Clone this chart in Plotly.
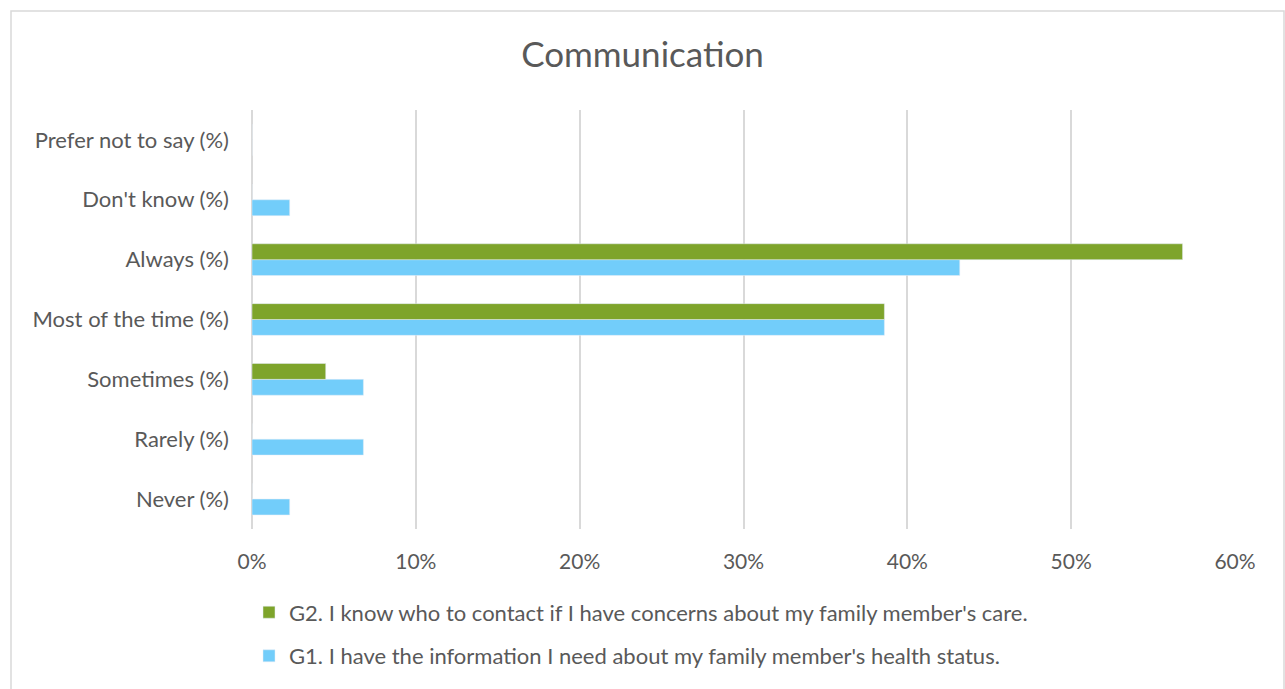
import plotly.graph_objects as go

categories = ["Never (%)", "Rarely (%)", "Sometimes (%)", "Most of the time (%)",
              "Always (%)", "Don't know (%)", "Prefer not to say (%)"]
g1_name = "G1. I have the information I need about my family member's health status."
g2_name = "G2. I know who to contact if I have concerns about my family member's care."
g1_values = [0.023, 0.068, 0.068, 0.386, 0.432, 0.023, 0.0]
g2_values = [0.0, 0.0, 0.045, 0.386, 0.568, 0.0, 0.0]
x_ticks = [0, 0.1, 0.2, 0.3, 0.4, 0.5, 0.6]

FONT = "Lato, Calibri, Carlito, sans-serif"
TEXT = "#595959"
GRID = "#d9d9d9"

W, H = 1285, 689
L, R, T, B = 252, 50, 110, 156
pw, ph = W - L - R, H - T - B

def px_x(p):
    return (p - L) / pw

def px_y(p):
    return (H - B - p) / ph

fig = go.Figure()
fig.add_trace(go.Bar(y=categories, x=g1_values, orientation="h", name=g1_name,
                     marker_color="#72cdfa", legendgroup="g1", legendrank=2))
fig.add_trace(go.Bar(y=categories, x=g2_values, orientation="h", name=g2_name,
                     marker_color="#7ea42b", legendgroup="g2", legendrank=1))

fig.update_layout(
    width=W, height=H,
    margin=dict(l=L, r=R, t=T, b=B),
    paper_bgcolor="white", plot_bgcolor="white",
    barmode="group", bargap=0.47, bargroupgap=0,
    font=dict(family=FONT, color=TEXT, size=21),
    title=dict(text="Communication", x=0.5, xref="container", xanchor="center",
               y=1 - 55 / H, yanchor="middle",
               font=dict(size=35, color=TEXT, family=FONT)),
    showlegend=True,
    legend=dict(x=px_x(249), xanchor="left", y=px_y(596), yanchor="top",
                traceorder="grouped", tracegroupgap=12,
                font=dict(size=22, color=TEXT), bgcolor="rgba(0,0,0,0)"),
    xaxis=dict(range=[0, 0.6], tickvals=x_ticks, tickformat=".0%",
               showgrid=True, gridcolor=GRID, gridwidth=1.5,
               zeroline=True, zerolinecolor=GRID, zerolinewidth=1.5,
               showline=False, ticks="", ticklabelstandoff=18,
               tickfont=dict(size=21, color=TEXT), fixedrange=True),
    yaxis=dict(categoryorder="array", categoryarray=categories,
               showgrid=False, showline=False, ticks="",
               ticklabelstandoff=22, tickfont=dict(size=22, color=TEXT),
               fixedrange=True),
    shapes=[dict(type="rect", xref="paper", yref="paper",
                 x0=px_x(11), x1=px_x(1284), y0=px_y(700), y1=px_y(10),
                 line=dict(color=GRID, width=1.5), fillcolor="rgba(0,0,0,0)",
                 layer="below")],
)

fig.write_html("out.html", config={"displayModeBar": False})
